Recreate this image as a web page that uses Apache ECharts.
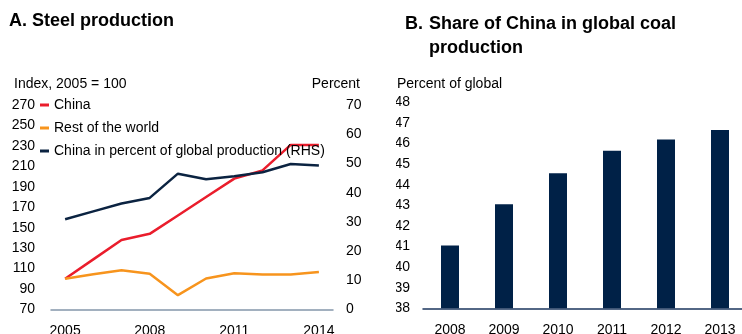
<!DOCTYPE html>
<html>
<head>
<meta charset="utf-8">
<script src="https://cdn.jsdelivr.net/npm/echarts@6/dist/echarts.min.js"></script>
<style>
  html, body { margin: 0; padding: 0; background: #fff; }
  body { width: 742px; height: 334px; position: relative; overflow: hidden; }
  #steel { position: absolute; left: 0; top: 0; width: 382px; height: 334px; }
  #coal { position: absolute; left: 396px; top: 0; width: 346px; height: 334px; }
</style>
</head>
<body>
<div id="steel"></div>
<div id="coal"></div>
<script>
// Panel A: steel production
const steelYears = ['2005', '2006', '2007', '2008', '2009', '2010', '2011', '2012', '2013', '2014'];
const chinaIndex = [100, 119, 138, 144, 162, 180, 198, 206, 231, 231];
const restOfWorldIndex = [100, 104.5, 108.4, 105, 84, 100.3, 105.5, 104.3, 104.3, 106.6];
const chinaSharePct = [30.9, 33.6, 36.3, 38.2, 46.5, 44.6, 45.6, 47.0, 49.8, 49.3];
const steelNames = ['China', 'Rest of the world', 'China in percent of global production (RHS)'];

// Panel B: China's share in global coal production
const coalYears = ['2008', '2009', '2010', '2011', '2012', '2013'];
const coalSharePct = [41.05, 43.05, 44.55, 45.65, 46.2, 46.65];

const FONT = '"Liberation Sans", Arial, sans-serif';
const RED = '#ea1d2c', ORANGE = '#f7941d', NAVY = '#0b2341', BAR = '#002147';

const steel = echarts.init(document.getElementById('steel'));
steel.setOption({
  animation: false,
  textStyle: { fontFamily: FONT },
  graphic: [
    { type: 'text', left: 9, top: 12, style: { text: 'A. Steel production', font: 'bold 18px ' + FONT, fill: '#000' } },
    { type: 'text', left: 14, top: 77, style: { text: 'Index, 2005 = 100', font: '14px ' + FONT, fill: '#000' } },
    { type: 'text', right: 22, top: 77, style: { text: 'Percent', font: '14px ' + FONT, fill: '#000' } }
  ],
  legend: {
    orient: 'vertical', left: 40, top: 97, itemGap: 7, padding: 0,
    icon: 'rect', itemWidth: 9, itemHeight: 3,
    textStyle: { fontSize: 14, color: '#000', fontFamily: FONT, lineHeight: 16 },
    data: steelNames
  },
  grid: { left: 51, width: 282, top: 105, height: 204.5, outerBoundsMode: 'none', containLabel: false },
  xAxis: {
    type: 'category', data: steelYears, boundaryGap: true,
    axisTick: { show: false },
    axisLine: { lineStyle: { color: '#8497ab', width: 1.5 } },
    axisLabel: { interval: 2, fontSize: 14, color: '#000', margin: 15 }
  },
  yAxis: [
    {
      type: 'value', min: 70, max: 270, interval: 20,
      axisLine: { show: false }, axisTick: { show: false }, splitLine: { show: false },
      axisLabel: { fontSize: 14, color: '#000', margin: 16 }
    },
    {
      type: 'value', min: 0, max: 70, interval: 10, position: 'right',
      axisLine: { show: false }, axisTick: { show: false }, splitLine: { show: false },
      axisLabel: { fontSize: 14, color: '#000', margin: 13 }
    }
  ],
  series: [
    { name: steelNames[0], type: 'line', data: chinaIndex, yAxisIndex: 0, showSymbol: false, symbol: 'none',
      lineStyle: { color: RED, width: 2.5 }, itemStyle: { color: RED } },
    { name: steelNames[1], type: 'line', data: restOfWorldIndex, yAxisIndex: 0, showSymbol: false, symbol: 'none',
      lineStyle: { color: ORANGE, width: 2.5 }, itemStyle: { color: ORANGE } },
    { name: steelNames[2], type: 'line', data: chinaSharePct, yAxisIndex: 1, showSymbol: false, symbol: 'none',
      lineStyle: { color: NAVY, width: 2.5 }, itemStyle: { color: NAVY } }
  ]
});

const coal = echarts.init(document.getElementById('coal'));
coal.setOption({
  animation: false,
  textStyle: { fontFamily: FONT },
  graphic: [
    { type: 'text', left: 9, top: 12, style: { text: 'B.', font: 'bold 18px ' + FONT, lineHeight: 24, fill: '#000' } },
    { type: 'text', left: 33, top: 12, style: { text: 'Share of China in global coal\nproduction', font: 'bold 18px ' + FONT, lineHeight: 24, fill: '#000' } },
    { type: 'text', left: 1, top: 77, style: { text: 'Percent of global', font: '14px ' + FONT, fill: '#000' } }
  ],
  grid: { left: 27, width: 324, top: 102.3, height: 206, outerBoundsMode: 'none', containLabel: false },
  xAxis: {
    type: 'category', data: coalYears, boundaryGap: true,
    axisTick: { show: false },
    axisLine: { lineStyle: { color: '#1b365d', width: 1.5 } },
    axisLabel: { fontSize: 14, color: '#000', margin: 15 }
  },
  yAxis: {
    type: 'value', min: 38, max: 48, interval: 1,
    axisLine: { show: false }, axisTick: { show: false }, splitLine: { show: false },
    axisLabel: { fontSize: 14, color: '#000', margin: 13 }
  },
  series: [
    { type: 'bar', data: coalSharePct, barWidth: 18, itemStyle: { color: BAR } }
  ]
});
</script>
</body>
</html>
